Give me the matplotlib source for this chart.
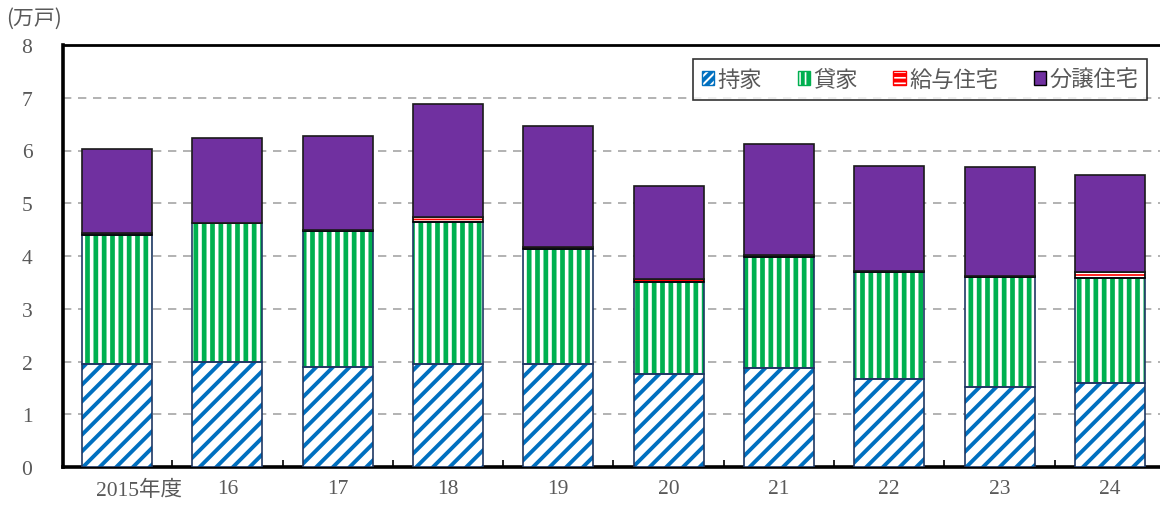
import matplotlib
matplotlib.use('Agg')
import matplotlib.pyplot as plt
import matplotlib.transforms as mtransforms
from matplotlib.patches import Patch
import numpy as np

# 年度別 新設住宅着工戸数（万戸）
years = ['2015', '16', '17', '18', '19', '20', '21', '22', '23', '24']
mochiie = [1.95, 2.00, 1.89, 1.95, 1.95, 1.76, 1.88, 1.67, 1.52, 1.59]   # 持家
kashiya = [2.45, 2.62, 2.59, 2.69, 2.18, 1.75, 2.10, 2.02, 2.08, 2.00]   # 貸家
kyuyo = [0.04, 0.01, 0.02, 0.09, 0.05, 0.05, 0.03, 0.02, 0.02, 0.10]     # 給与住宅
bunjo = [1.59, 1.60, 1.77, 2.15, 2.28, 1.77, 2.12, 1.99, 2.06, 1.84]     # 分譲住宅
labels = ['持家', '貸家', '給与住宅', '分譲住宅']
yticks = [0, 1, 2, 3, 4, 5, 6, 7, 8]

num_font = ['Liberation Serif', 'Noto Sans CJK JP']
jp_font = ['Noto Sans CJK JP', 'DejaVu Sans']
txt_col = '#595959'

fig = plt.figure(figsize=(11.6, 5.06), dpi=100)
ax = fig.add_axes([63 / 1160, 38 / 506, 1102 / 1160, 422 / 506])

x = np.arange(len(years))
w = 0.635


def hatched(bottom, vals, hcol, ecol, hatch, hlw):
    bars = ax.bar(x, vals, w, bottom=bottom, color='white', edgecolor=hcol,
                  linewidth=0, hatch=hatch, zorder=3)
    for b in bars:
        if hasattr(b, 'set_hatch_linewidth'):
            b.set_hatch_linewidth(hlw)
    ax.bar(x, vals, w, bottom=bottom, fill=False, edgecolor=ecol,
           linewidth=1.2, zorder=4)


b0 = np.zeros(len(years))
b1 = b0 + np.array(mochiie)
b2 = b1 + np.array(kashiya)
b3 = b2 + np.array(kyuyo)

plt.rcParams['hatch.linewidth'] = 2.8
hatched(b0, mochiie, '#0070C0', '#1F3864', '//', 2.8)
hatched(b1, kashiya, '#00B050', '#1F3864', '||', 3.4)
hatched(b2, kyuyo, '#FF0000', '#000000', '---', 1.2)
ax.bar(x, bunjo, w, bottom=b3, color='#7030A0', edgecolor='#1a1a1a',
       linewidth=1.2, zorder=4)

ax.set_xlim(-0.49, 9.5)
ax.set_ylim(0, 8)
ax.set_yticks(yticks)
ax.set_yticklabels([str(v) for v in yticks], family=num_font, fontsize=15.5,
                   color=txt_col)
ax.tick_params(axis='y', length=0, pad=22)

xl = [years[0] + '年度'] + years[1:]
ax.set_xticks(x)
ax.set_xticklabels(xl, family=num_font, fontsize=15.5, color=txt_col)
ax.tick_params(axis='x', length=0, pad=9)
first = ax.get_xticklabels()[0]
first.set_ha('left')
first.set_transform(first.get_transform() +
                    mtransforms.ScaledTranslation(-0.21, 0, fig.dpi_scale_trans))
ax.set_xticks(x[:-1] + 0.5, minor=True)
ax.tick_params(axis='x', which='minor', direction='in', length=5, width=1.2,
               color='black')

ax.yaxis.grid(True, linestyle=(0, (5, 4)), color='#A6A6A6', linewidth=1.2, zorder=0)
ax.set_axisbelow(True)
for s in ['left', 'bottom']:
    ax.spines[s].set_linewidth(2.6)
ax.spines['top'].set_linewidth(2)
ax.spines['right'].set_linewidth(2)

fig.text(6 / 1160, 1 - 19 / 506, '(万戸)', family=jp_font, fontsize=15,
         color=txt_col, va='center', ha='left')

handles = [
    Patch(facecolor='white', edgecolor='#0070C0', hatch='////', linewidth=1),
    Patch(facecolor='white', edgecolor='#00B050', hatch='|||', linewidth=1),
    Patch(facecolor='white', edgecolor='#FF0000', hatch='---', linewidth=1),
    Patch(facecolor='#7030A0', edgecolor='black', linewidth=1),
]
leg = fig.legend(handles, labels, loc='upper right',
                 bbox_to_anchor=(1147 / 1160, 1 - 60 / 506), ncol=4,
                 prop={'family': jp_font, 'size': 16}, frameon=True,
                 fancybox=False, edgecolor='black', handlelength=0.55,
                 handleheight=0.55, handletextpad=0.15, columnspacing=1.6,
                 borderpad=0.4, borderaxespad=0, labelcolor=txt_col)
leg.get_frame().set_linewidth(1.2)

fig.savefig('out.png', dpi=100)
